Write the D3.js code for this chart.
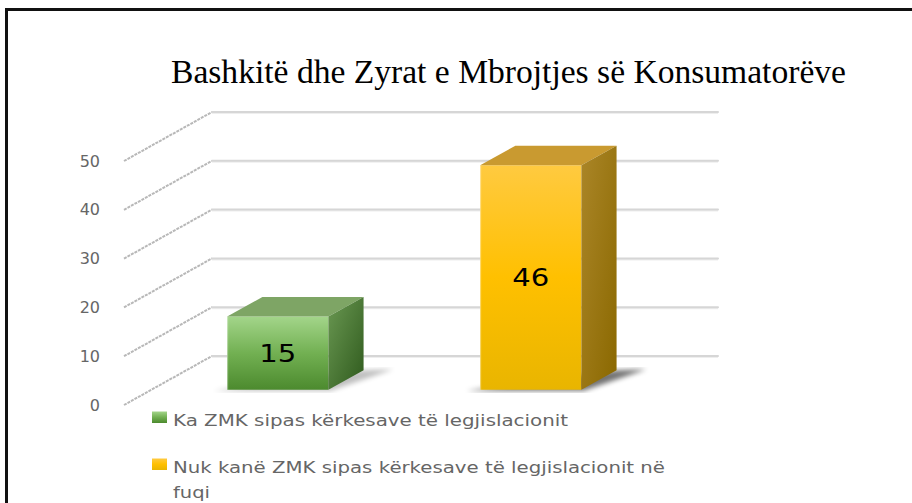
<html>
<head>
<meta charset="utf-8">
<script src="https://d3js.org/d3.v7.min.js"></script>
<style>
  body { margin: 0; background: #fff; }
</style>
</head>
<body>
<script>
const title = "Bashkitë dhe Zyrat e Mbrojtjes së Konsumatorëve";
const categories = ["Ka ZMK sipas kërkesave të legjislacionit", "Nuk kanë ZMK sipas kërkesave të legjislacionit në fuqi"];
const values = [15, 46];
const yTicks = [0, 10, 20, 30, 40, 50];
const legendLines = [["Ka ZMK sipas kërkesave të legjislacionit"], ["Nuk kanë ZMK sipas kërkesave të legjislacionit në", "fuqi"]];

const svg = d3.select("body").append("svg").attr("width", 912).attr("height", 503);

// frame
svg.append("rect").attr("x", 6.5).attr("y", 9.5).attr("width", 1000).attr("height", 1000)
  .attr("fill", "none").attr("stroke", "#111").attr("stroke-width", 3);

let defs = svg.append("defs");
function grad(id, stops, x2, y2) {
  let g = defs.append("linearGradient").attr("id", id)
    .attr("x1", 0).attr("y1", 0).attr("x2", x2).attr("y2", y2);
  stops.forEach(s => g.append("stop").attr("offset", s[0]).attr("stop-color", s[1]));
}
grad("gFront", [[0, "#a3d58a"], [0.5, "#72b052"], [1, "#4c8a2e"]], 0, 1);
grad("gSide", [[0, "#6a9852"], [1, "#2f5a1d"]], 1, 1);
grad("yFront", [[0, "#ffca40"], [0.5, "#ffc000"], [1, "#e9b500"]], 0, 1);
grad("ySide", [[0, "#ab8628"], [1, "#8a6800"]], 1, 1);
defs.append("filter").attr("id", "blur").append("feGaussianBlur").attr("stdDeviation", 2.5);

const colors = [
  {front: "url(#gFront)", top: "#7ea565", side: "url(#gSide)"},
  {front: "url(#yFront)", top: "#c99a30", side: "url(#ySide)"}
];

// projection of the 3d box
const X0 = 124, Y0 = 405, DX = 88, DY = 49;
const plotW = 506;
let y = d3.scaleLinear().domain([0, 50]).range([0, 244]);
let x = d3.scaleBand().domain(categories).range([0, plotW]).paddingInner(0.6).paddingOuter(0.3);
function P(px, v, z) { return [X0 + px + DX * z, Y0 - y(v) - DY * z]; }
let poly = pts => "M" + pts.map(p => p.join(",")).join("L") + "Z";

// gridlines
let grid = svg.append("g");
yTicks.forEach(t => {
  let a = P(0, t, 0), b = P(0, t, 1), c = P(plotW, t, 1);
  grid.append("line").attr("x1", a[0]).attr("y1", a[1]).attr("x2", b[0]).attr("y2", b[1])
    .attr("stroke", "#b8b8b8").attr("stroke-width", 2).attr("stroke-dasharray", "3,1");
  grid.append("line").attr("x1", b[0]).attr("y1", b[1] + 1).attr("x2", c[0]).attr("y2", c[1] + 1)
    .attr("stroke", "#eeeeee").attr("stroke-width", 2);
  grid.append("line").attr("x1", b[0]).attr("y1", b[1]).attr("x2", c[0]).attr("y2", c[1])
    .attr("stroke", "#d6d6d6").attr("stroke-width", 2).attr("stroke-linecap", "round");
});

// y axis labels on the front plane
let yFront = d3.scaleLinear().domain([0, 50]).range([Y0, Y0 - y(50)]);
let axis = svg.append("g").attr("transform", "translate(100,0)")
  .call(d3.axisLeft(yFront).tickValues(yTicks).tickSize(0).tickPadding(0));
axis.select(".domain").remove();
axis.selectAll("text").attr("font-family", "DejaVu Sans").attr("font-size", 16).attr("fill", "#666");

// bars
const z0 = 0.31, z1 = 0.71;
let bars = svg.append("g");
categories.forEach((cat, i) => {
  let x0 = x(cat), x1 = x(cat) + x.bandwidth(), v = values[i];
  // floor shadow
  bars.append("path")
    .attr("d", poly([P(x0 - 12, 0, z0 - 0.02), P(x1 + 4, 0, z0 - 0.02), P(x1 + 28, 0, z1 + 0.02), P(x1, 0, z1)]))
    .attr("fill", "#000").attr("opacity", i == 1 ? 0.55 : 0.25).attr("filter", "url(#blur)");
  bars.append("path").attr("d", poly([P(x0, 0, z0), P(x1, 0, z0), P(x1, v, z0), P(x0, v, z0)]))
    .attr("fill", colors[i].front);
  bars.append("path").attr("d", poly([P(x0, v, z0), P(x1, v, z0), P(x1, v, z1), P(x0, v, z1)]))
    .attr("fill", colors[i].top);
  bars.append("path").attr("d", poly([P(x1, 0, z0), P(x1, 0, z1), P(x1, v, z1), P(x1, v, z0)]))
    .attr("fill", colors[i].side);
  // light left edge
  let e0 = P(x0, 0, z0), e1 = P(x0, v, z0);
  bars.append("line").attr("x1", e0[0] + 0.5).attr("y1", e0[1]).attr("x2", e1[0] + 0.5).attr("y2", e1[1])
    .attr("stroke", "#ffffff").attr("stroke-opacity", 0.35).attr("stroke-width", 1);
  // value label
  let c = P((x0 + x1) / 2, v / 2, z0);
  bars.append("text").attr("x", c[0]).attr("y", c[1] + 8.5)
    .attr("text-anchor", "middle").attr("font-family", "DejaVu Sans").attr("font-size", 25)
    .attr("textLength", 37).attr("lengthAdjust", "spacingAndGlyphs")
    .attr("fill", "#000").text(v);
});

// title
svg.append("text").attr("x", 171).attr("y", 83)
  .attr("font-family", "Liberation Serif").attr("font-size", 33)
  .attr("textLength", 675).attr("lengthAdjust", "spacingAndGlyphs")
  .attr("fill", "#000").text(title);

// legend
const legendY = [426, 473];
const lineWidths = [[395], [492, 37]];
let legend = svg.append("g");
legendLines.forEach((lines, i) => {
  legend.append("rect").attr("x", 152).attr("y", legendY[i] - 14.5).attr("width", 15).attr("height", 11.5)
    .attr("fill", colors[i].front);
  lines.forEach((ln, j) => {
    legend.append("text").attr("x", 173).attr("y", legendY[i] + j * 24.5)
      .attr("font-family", "DejaVu Sans").attr("font-size", 16).attr("fill", "#666")
      .attr("textLength", lineWidths[i][j]).attr("lengthAdjust", "spacingAndGlyphs")
      .text(ln);
  });
});
</script>
</body>
</html>
